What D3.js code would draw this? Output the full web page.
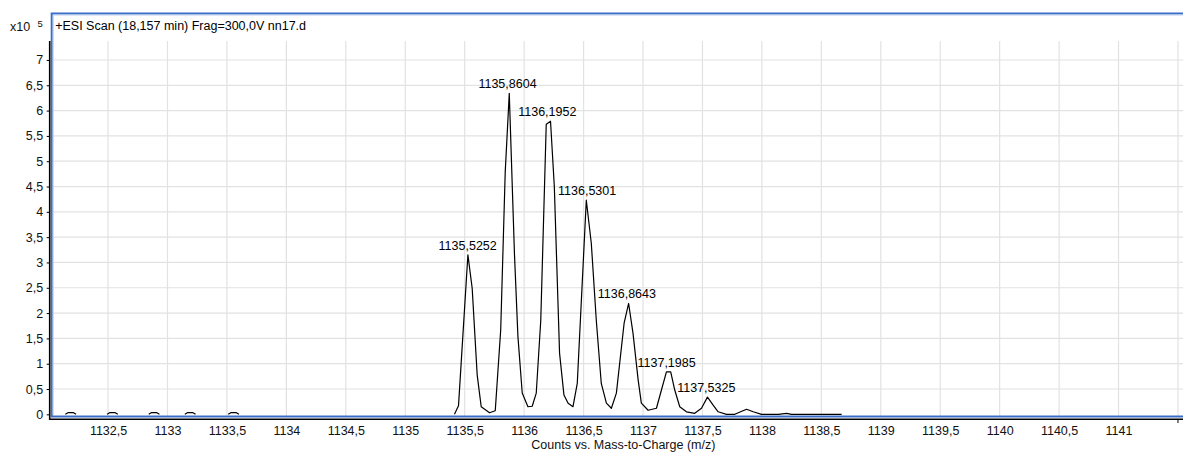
<!DOCTYPE html>
<html>
<head>
<meta charset="utf-8">
<script src="https://cdn.jsdelivr.net/npm/d3@7"></script>
<style>
body { margin: 0; background: #fff; }
svg { display: block; font-family: "Liberation Sans", Arial, sans-serif; }
</style>
</head>
<body>
<svg id="viz" width="1183" height="453"></svg>
<script>
"use strict";
// spectrum profile, m/z and counts (x10^5); null = gap in the trace
const mz = [
    1132.141, 1132.166, 1132.206, 1132.231, null,
    1132.492, 1132.517, 1132.557, 1132.582, null,
    1132.842, 1132.867, 1132.907, 1132.932, null,
    1133.146, 1133.171, 1133.211, 1133.236, null,
    1133.511, 1133.536, 1133.576, 1133.601, null,
    1135.414, 1135.448, 1135.527, 1135.563, 1135.605, 1135.639, 1135.709, 1135.757,
    1135.803, 1135.841, 1135.875, 1135.919, 1135.948, 1135.984, 1136.032, 1136.068,
    1136.102, 1136.140, 1136.186, 1136.222, 1136.254, 1136.298, 1136.335, 1136.370,
    1136.411, 1136.447, 1136.523, 1136.565, 1136.607, 1136.649, 1136.692, 1136.734,
    1136.776, 1136.841, 1136.879, 1136.916, 1136.959, 1136.986, 1137.043, 1137.113,
    1137.155, 1137.197, 1137.233, 1137.267, 1137.309, 1137.365, 1137.435, 1137.492,
    1137.542, 1137.590, 1137.632, 1137.702, 1137.772, 1137.871, 1137.927, 1137.997,
    1138.138, 1138.207, 1138.250, 1138.671
];
const intensity = [
    0, 0.035, 0.035, 0, null,
    0, 0.035, 0.035, 0, null,
    0, 0.035, 0.035, 0, null,
    0, 0.035, 0.035, 0, null,
    0, 0.035, 0.035, 0, null,
    0, 0.17, 3.15, 2.49, 0.78, 0.15, 0.03, 0.07,
    1.67, 4.79, 6.34, 3.15, 1.53, 0.42, 0.15, 0.16,
    0.42, 1.86, 5.73, 5.79, 4.5, 1.21, 0.38, 0.22,
    0.15, 0.61, 4.23, 3.38, 1.86, 0.61, 0.22, 0.12,
    0.42, 1.8, 2.19, 1.6, 0.68, 0.22, 0.08, 0.12,
    0.48, 0.84, 0.84, 0.48, 0.15, 0.05, 0.02, 0.12,
    0.34, 0.18, 0.05, 0, 0, 0.1, 0.05, 0,
    0, 0.02, 0, 0
];
const peakMz = [1135.5252, 1135.8604, 1136.1952, 1136.5301, 1136.8643, 1137.1985, 1137.5325];
const xTicks = [1132.5, 1133, 1133.5, 1134, 1134.5, 1135, 1135.5, 1136, 1136.5, 1137,
    1137.5, 1138, 1138.5, 1139, 1139.5, 1140, 1140.5, 1141, 1141.5];
const xLabels = xTicks.slice(0, -1);
const yTicks = [0, 0.5, 1, 1.5, 2, 2.5, 3, 3.5, 4, 4.5, 5, 5.5, 6, 6.5, 7];
const title = "+ESI Scan (18,157 min) Frag=300,0V nn17.d";
const xTitle = "Counts vs. Mass-to-Charge (m/z)";

const svg = d3.select("#viz");
const frame = { left: 51.7, top: 13.5, right: 1192, bottom: 416.5, gridTop: 41 };
const fs = 12.5;

const loc = d3.formatLocale({ decimal: ",", thousands: ".", grouping: [3], currency: ["", ""] });
const fmtTick = loc.format(".1~f");
const fmtPeak = loc.format(".4f");

let x = d3.scaleLinear().domain([1132.026, 1141.618]).range([frame.left, frame.right]),
    y = d3.scaleLinear().domain([-0.043, 7.375]).range([frame.bottom, frame.gridTop]);

// grid
svg.append("g").selectAll("line").data(xTicks).enter().append("line")
    .attr("x1", d => x(d)).attr("x2", d => x(d))
    .attr("y1", frame.gridTop).attr("y2", frame.bottom)
    .attr("stroke", "#e2e2e2").attr("stroke-width", 1.2);
svg.append("g").selectAll("line").data(yTicks.filter(d => d > 0)).enter().append("line")
    .attr("x1", frame.left).attr("x2", frame.right)
    .attr("y1", d => y(d)).attr("y2", d => y(d))
    .attr("stroke", "#e2e2e2").attr("stroke-width", 1.2);

// spectrum trace
let pts = mz.map((m, i) => ({ m: m, v: intensity[i] }));
let line = d3.line()
    .defined(d => d.m !== null && d.v !== null)
    .x(d => x(d.m)).y(d => y(d.v));
svg.append("path")
    .datum(pts)
    .attr("d", line)
    .attr("fill", "none")
    .attr("stroke", "#000")
    .attr("stroke-width", 1.2)
    .attr("stroke-linejoin", "round");

// peak labels
peakMz.forEach(p => {
    let top = d3.max(pts.filter(d => d.m !== null && Math.abs(d.m - p) < 0.08), d => d.v);
    svg.append("text")
        .attr("x", x(p))
        .attr("y", y(top) - 5)
        .attr("text-anchor", "middle")
        .attr("font-size", fs)
        .attr("fill", "#000")
        .text(fmtPeak(p));
});

// blue frame
svg.append("rect")
    .attr("x", frame.left).attr("y", frame.top)
    .attr("width", frame.right - frame.left).attr("height", frame.bottom - frame.top)
    .attr("fill", "none").attr("stroke", "#3a6cc8").attr("stroke-width", 2);
svg.append("path")
    .attr("d", `M ${frame.left + 1.5} ${frame.bottom - 1.5} V ${frame.top + 1.5} H ${frame.right}`)
    .attr("fill", "none").attr("stroke", "#b9cdf0").attr("stroke-width", 1);

// y axis
let yAxis = svg.append("g")
    .attr("transform", `translate(${frame.left - 2}, 0)`)
    .call(d3.axisLeft(y).tickValues(yTicks).tickFormat(fmtTick).tickSize(3).tickPadding(3.5).tickSizeOuter(0));
yAxis.select(".domain").remove();
yAxis.attr("font-size", fs).attr("font-family", null);
yAxis.selectAll("text").attr("fill", "#111");

// x axis
let xAxis = svg.append("g")
    .attr("transform", `translate(0, ${frame.bottom + 2.8})`)
    .call(d3.axisBottom(x).tickValues(xLabels).tickFormat(fmtTick).tickSize(0).tickPadding(7).tickSizeOuter(0));
xAxis.select(".domain").remove();
xAxis.attr("font-size", fs).attr("font-family", null);
xAxis.selectAll("text").attr("fill", "#111");
let lastTick = xTicks[xTicks.length - 1];
svg.append("line")
    .attr("x1", x(lastTick)).attr("x2", x(lastTick))
    .attr("y1", frame.bottom + 2.8).attr("y2", frame.bottom + 6.5)
    .attr("stroke", "#000");

// black axis lines
svg.append("path")
    .attr("d", `M ${frame.left - 2} ${frame.gridTop} V ${frame.bottom + 2.8} H 1183`)
    .attr("fill", "none").attr("stroke", "#000").attr("stroke-width", 1.6);

// titles
svg.append("text")
    .attr("x", frame.left + 3.5).attr("y", 30)
    .attr("font-size", fs).attr("fill", "#000")
    .text(title);
svg.append("text")
    .attr("x", 10).attr("y", 30.5)
    .attr("font-size", fs).attr("fill", "#111")
    .text("x10");
svg.append("text")
    .attr("x", 37.5).attr("y", 26.5)
    .attr("font-size", 9.5).attr("fill", "#111")
    .text("5");
svg.append("text")
    .attr("x", (frame.left + frame.right) / 2 + 1.5).attr("y", 449)
    .attr("text-anchor", "middle")
    .attr("font-size", fs).attr("fill", "#111")
    .text(xTitle);
</script>
</body>
</html>
